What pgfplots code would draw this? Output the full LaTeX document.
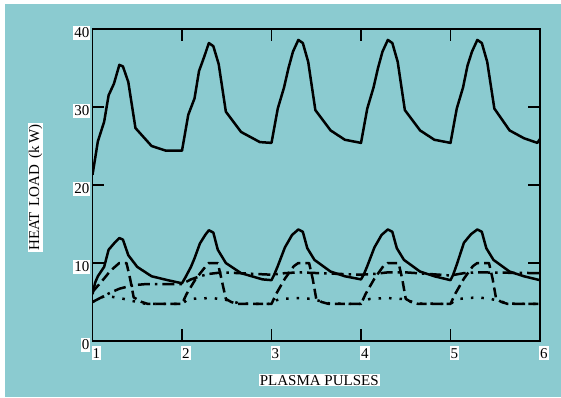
\documentclass[border=0pt]{standalone}
\usepackage{pgfplots}
\pgfplotsset{compat=1.18}
\usepackage{fontspec}
\setmainfont{Liberation Serif}
\definecolor{bg}{RGB}{139,203,208}
\definecolor{wh}{RGB}{255,255,255}
\begin{document}
\fontsize{15}{18}\selectfont
\begin{tikzpicture}
\useasboundingbox (-92.5pt,-56pt) rectangle (468.5pt,341pt);
\fill[wh] (-92.5pt,-56pt) rectangle (468.5pt,341pt);
\fill[bg] (-87.5pt,-56pt) rectangle (468.5pt,337pt);
\begin{axis}[
  at={(0pt,0pt)}, anchor=south west,
  scale only axis, width=447.5pt, height=312pt,
  xmin=1, xmax=6, ymin=0, ymax=40,
  xtick={1,2,3,4,5,6}, ytick={0,10,20,30,40},
  tick align=inside, major tick length=12pt,
  every tick/.style={black, line width=1.6pt},
  axis line style={line width=1.8pt},
  /pgf/number format/assume math mode=true,
  every tick label/.append style={font=\fontsize{15}{15}\selectfont, fill=wh, inner xsep=1pt, inner ysep=2pt},
  yticklabel style={anchor=east, xshift=-2pt, yshift=-4pt},
  xticklabel style={anchor=north west, xshift=-1pt, yshift=-5pt},
  xlabel={PLASMA PULSES},
  ylabel={HEAT\hspace{6pt}LOAD\hspace{6pt}(k\,W)},
  every axis label/.append style={font=\fontsize{15}{15}\selectfont, fill=wh, inner sep=1pt},
  xlabel style={at={(axis description cs:0.5,0)}, anchor=north, yshift=-33pt, xshift=3pt},
  ylabel style={at={(axis description cs:0,0.5)}, anchor=south, yshift=49pt, xshift=-2.5pt},
  every axis plot/.append style={black, line width=2.5pt, line join=round},
]
% upper solid
\addplot[solid] coordinates {
(1.00,21.3) (1.06,25.6) (1.13,28.1) (1.18,31.5) (1.24,33.0) (1.30,35.4) (1.34,35.2) (1.40,33.2) (1.48,27.3) (1.66,25.0) (1.82,24.4) (2.00,24.4)
(2.07,29.0) (2.14,31.1) (2.19,34.6) (2.25,36.5) (2.30,38.2) (2.35,37.8) (2.41,35.5) (2.49,29.4) (2.66,26.8) (2.87,25.5) (3.00,25.4)
(3.07,29.8) (3.14,32.5) (3.19,35.0) (3.24,37.1) (3.30,38.6) (3.35,38.2) (3.41,35.8) (3.49,29.6) (3.66,27.0) (3.82,25.8) (4.00,25.4)
(4.07,29.8) (4.14,32.5) (4.19,35.0) (4.24,37.1) (4.30,38.6) (4.35,38.2) (4.41,35.8) (4.49,29.6) (4.66,27.0) (4.82,25.8) (5.00,25.4)
(5.07,29.8) (5.14,32.5) (5.19,35.3) (5.24,37.1) (5.30,38.6) (5.35,38.2) (5.41,35.8) (5.49,29.8) (5.66,27.0) (5.82,26.0) (5.97,25.4) (6.00,25.9)
};
% lower solid
\addplot[solid] coordinates {
(1.00,6.0) (1.03,7.5) (1.06,8.3) (1.13,9.5) (1.18,11.7) (1.24,12.5) (1.30,13.2) (1.34,13.0) (1.40,11.0) (1.50,9.5) (1.66,8.3) (1.84,7.8) (2.00,7.4)
(2.04,8.2) (2.10,9.5) (2.14,10.6) (2.20,12.5) (2.26,13.6) (2.30,14.2) (2.35,13.9) (2.40,11.7) (2.49,10.0) (2.66,8.7) (2.90,7.9) (3.00,7.8)
(3.03,8.5) (3.07,9.6) (3.15,12.0) (3.23,13.6) (3.30,14.3) (3.35,14.0) (3.40,11.9) (3.48,10.4) (3.66,8.9) (3.82,8.3) (4.00,7.9)
(4.03,8.5) (4.07,9.6) (4.15,12.0) (4.23,13.6) (4.30,14.3) (4.35,14.0) (4.40,11.9) (4.48,10.4) (4.66,8.9) (4.82,8.3) (5.00,7.8)
(5.03,8.5) (5.07,9.8) (5.15,12.6) (5.23,13.7) (5.30,14.3) (5.35,14.0) (5.40,11.9) (5.48,10.4) (5.66,8.9) (5.82,8.3) (6.00,7.8)
};
% dashed
\addplot[dash pattern=on 10pt off 5pt] coordinates {
(1.00,6.3) (1.10,7.6) (1.20,9.0) (1.30,10.0) (1.38,10.0) (1.42,8.0) (1.46,5.6) (1.55,5.0) (1.62,4.75) (2.00,4.75)
(2.05,6.0) (2.15,7.9) (2.28,9.8) (2.30,10.0) (2.40,10.0) (2.44,8.0) (2.49,5.4) (2.55,5.0) (2.62,4.75) (3.00,4.75)
(3.05,6.0) (3.15,8.0) (3.25,9.6) (3.30,10.0) (3.42,10.0) (3.46,8.0) (3.50,5.4) (3.56,5.0) (3.64,4.75) (4.00,4.75)
(4.05,6.0) (4.15,8.0) (4.25,9.6) (4.30,10.0) (4.42,10.0) (4.46,8.0) (4.50,5.4) (4.56,5.0) (4.64,4.75) (5.00,4.75)
(5.05,6.0) (5.15,8.0) (5.25,9.6) (5.30,10.0) (5.43,10.0) (5.47,8.0) (5.51,5.4) (5.57,5.0) (5.64,4.75) (6.00,4.75)
};
% dash-dot
\addplot[dash pattern=on 12pt off 5pt on 2.5pt off 5pt] coordinates {
(1.00,5.0) (1.10,5.6) (1.20,6.2) (1.30,6.7) (1.40,7.0) (1.50,7.2) (1.60,7.3) (2.00,7.3)
(2.10,7.9) (2.20,8.3) (2.30,8.6) (2.45,8.8) (3.00,8.5)
(3.15,8.7) (3.30,8.8) (4.00,8.5)
(4.15,8.6) (4.30,8.8) (4.50,8.8) (5.00,8.4)
(5.15,8.7) (5.30,8.8) (6.00,8.7)
};
% dotted
\addplot[dash pattern=on 2.5pt off 8pt] coordinates {
(1.00,5.0) (1.08,5.5) (1.15,5.8) (1.25,5.6) (1.35,5.4) (1.42,5.2) (1.50,5.0) (1.60,4.75) (2.00,4.75)
(2.05,5.2) (2.10,5.4) (2.30,5.5) (2.45,5.4) (2.55,5.1) (2.65,4.8) (3.00,4.75)
(3.05,5.2) (3.10,5.4) (3.30,5.5) (3.45,5.4) (3.55,5.1) (3.65,4.8) (4.00,4.75)
(4.05,5.2) (4.10,5.4) (4.30,5.5) (4.45,5.4) (4.55,5.1) (4.65,4.8) (5.00,4.75)
(5.05,5.2) (5.10,5.4) (5.30,5.6) (5.45,5.4) (5.55,5.1) (5.65,4.8) (6.00,4.75)
};
\end{axis}
\end{tikzpicture}
\end{document}
